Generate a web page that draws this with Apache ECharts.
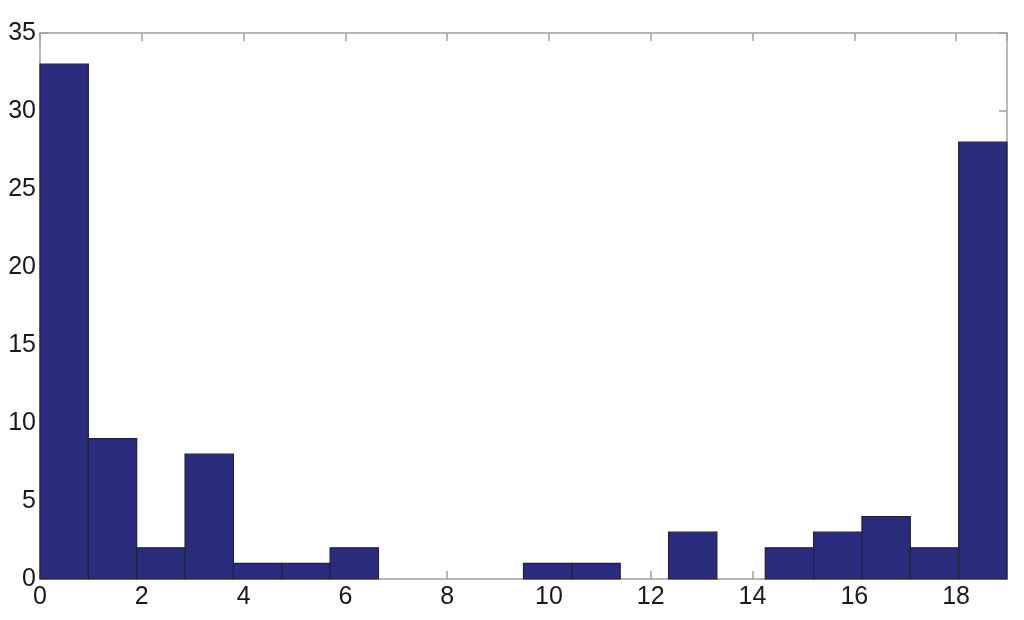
<!DOCTYPE html>
<html>
<head>
<meta charset="utf-8">
<script src="https://cdn.jsdelivr.net/npm/echarts@6/dist/echarts.min.js"></script>
<style>
html,body{margin:0;padding:0;background:#fff;}
#container{width:1024px;height:620px;}
</style>
</head>
<body>
<div id="container"></div>
<script>
// histogram: 20 bins from 0 to 19
var binStart = 0;
var binWidth = 0.95;
var counts = [33, 9, 2, 8, 1, 1, 2, 0, 0, 0, 1, 1, 0, 3, 0, 2, 3, 4, 2, 28];
var xTicks = [0, 2, 4, 6, 8, 10, 12, 14, 16, 18];
var yTicks = [0, 5, 10, 15, 20, 25, 30, 35];

var bins = [];
for (var i = 0; i < counts.length; i++) {
	var a = binStart + i * binWidth;
	bins.push([a, a + binWidth, counts[i]]);
}

var axisColor = '#a0a0a0';
var font = 'Liberation Sans, Arial, sans-serif';

function frameAxis(pos, max, interval) {
	return {
		type: 'value', position: pos, min: 0, max: max, interval: interval,
		axisLine: { show: true, onZero: false, lineStyle: { color: axisColor, width: 1.5 } },
		axisTick: { show: true, inside: true, length: 8, lineStyle: { color: axisColor, width: 1.5 } },
		axisLabel: { show: false },
		splitLine: { show: false }
	};
}

var myChart = echarts.init(document.getElementById('container'));
var option = {
	animation: false,
	grid: { left: 40, right: 17, top: 33, bottom: 41 },
	xAxis: [{
		type: 'value', min: 0, max: 19, interval: 2,
		axisLine: { show: true, onZero: false, lineStyle: { color: axisColor, width: 1.5 } },
		axisTick: { show: true, inside: true, length: 8, lineStyle: { color: axisColor, width: 1.5 } },
		axisLabel: { color: '#1a1a1a', fontSize: 25, fontFamily: font, margin: 6,
			showMaxLabel: false,
			formatter: function (v) { return xTicks.indexOf(v) >= 0 ? v : ''; } },
		splitLine: { show: false }
	}, frameAxis('top', 19, 2)],
	yAxis: [{
		type: 'value', min: 0, max: 35, interval: 5,
		axisLine: { show: true, onZero: false, lineStyle: { color: axisColor, width: 1.5 } },
		axisTick: { show: true, inside: true, length: 8, lineStyle: { color: axisColor, width: 1.5 } },
		axisLabel: { color: '#1a1a1a', fontSize: 25, fontFamily: font, margin: 4,
			formatter: function (v) { return yTicks.indexOf(v) >= 0 ? v : ''; } },
		splitLine: { show: false }
	}, frameAxis('right', 35, 5)],
	series: [{
		type: 'custom',
		xAxisIndex: 0,
		yAxisIndex: 0,
		data: bins,
		renderItem: function (params, api) {
			var p0 = api.coord([api.value(0), api.value(2)]);
			var p1 = api.coord([api.value(1), 0]);
			if (api.value(2) <= 0) {
				return { type: 'group', children: [] };
			}
			return {
				type: 'rect',
				shape: { x: p0[0], y: p0[1], width: p1[0] - p0[0], height: p1[1] - p0[1] },
				style: { fill: '#2a2d7e', stroke: '#222233', lineWidth: 1.2 }
			};
		}
	}]
};
myChart.setOption(option);
</script>
</body>
</html>
